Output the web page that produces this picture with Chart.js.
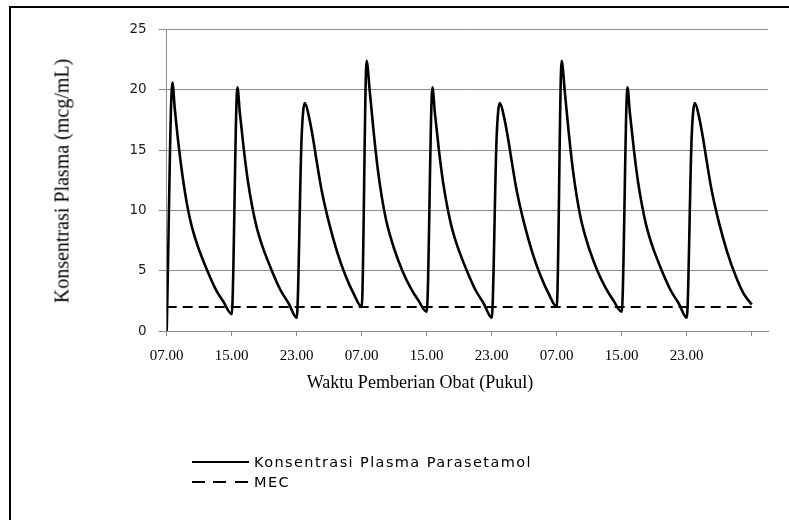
<!DOCTYPE html>
<html lang="id">
<head>
<meta charset="utf-8">
<title>Konsentrasi Plasma Parasetamol</title>
<script src="https://cdn.jsdelivr.net/npm/chart.js@4.4.1/dist/chart.umd.min.js"></script>
<style>
  html, body { margin: 0; padding: 0; background: #fff; }
  body { width: 789px; height: 520px; position: relative; overflow: hidden; }
  #bingkai { position: absolute; left: 9px; top: 6px; width: 820px; height: 600px;
             border-left: 2px solid #000; border-top: 2px solid #000; }
  #wadah { position: absolute; left: 0; top: 0; width: 789px; height: 520px; }
  .judul { position: absolute; font-family: "Liberation Serif", "Times New Roman", serif;
           color: #000; white-space: nowrap; }
  #judulX { left: 420px; top: 382px; font-size: 19px; transform: translate(-50%, -50%) scaleX(0.95); }
  #judulY { left: 62px; top: 181px; font-size: 20px; transform: translate(-50%, -50%) rotate(-90deg); }
  #legenda { position: absolute; left: 192px; top: 452px; font-family: "DejaVu Sans", sans-serif;
             font-size: 14.5px; letter-spacing: 1.4px; color: #000; }
  .item { position: relative; height: 20px; width: 420px; }
  .contoh { position: absolute; left: 0; top: 9px; width: 57px; height: 2px; }
  .penuh { background: #000; }
  .putus { background: repeating-linear-gradient(to right, #000 0 13px, transparent 13px 21.5px); }
  .teks { position: absolute; left: 62px; top: 0; line-height: 20px; }
</style>
</head>
<body>
<div id="bingkai"></div>
<div id="wadah"><canvas id="grafik"></canvas></div>
<div class="judul" id="judulX">Waktu Pemberian Obat (Pukul)</div>
<div class="judul" id="judulY">Konsentrasi Plasma (mcg/mL)</div>
<div id="legenda">
  <div class="item"><div class="contoh penuh"></div><div class="teks" id="leg0"></div></div>
  <div class="item"><div class="contoh putus"></div><div class="teks" id="leg1"></div></div>
</div>
<script>
// Waktu sejak dosis pertama (jam) dan kadar parasetamol (mcg/mL)
const waktuJam = [
  0, 0.7, 1, 1.5, 2, 2.5, 3, 3.5, 4, 5, 6, 7,
  8, 8.7, 9, 9.5, 10, 10.5, 11, 11.5, 12, 13, 14, 15,
  16, 16.6, 17, 17.5, 18, 18.5, 19, 19.5, 20, 21, 22, 23,
  24, 24.6, 25, 25.5, 26, 26.5, 27, 27.5, 28, 29, 30, 31,
  32, 32.7, 33, 33.5, 34, 34.5, 35, 35.5, 36, 37, 38, 39,
  40, 40.6, 41, 41.5, 42, 42.5, 43, 43.5, 44, 45, 46, 47,
  48, 48.6, 49, 49.5, 50, 50.5, 51, 51.5, 52, 53, 54, 55,
  56, 56.7, 57, 57.5, 58, 58.5, 59, 59.5, 60, 61, 62, 63,
  64, 64.6, 65, 65.5, 66, 66.5, 67, 67.5, 68, 69, 70, 71, 72
];
const kadarPlasma = [
  0, 20.6, 18.4, 15.2, 12.6, 10.5, 8.9, 7.7, 6.7, 5.0, 3.5, 2.4,
  1.4, 20.2, 18.1, 15.0, 12.4, 10.4, 8.8, 7.6, 6.6, 4.9, 3.4, 2.3,
  1.1, 16.0, 18.9, 17.8, 16.0, 13.9, 11.9, 10.3, 8.9, 6.5, 4.6, 3.1,
  2.0, 22.4, 19.8, 16.3, 13.3, 11.0, 9.2, 7.9, 6.8, 5.0, 3.6, 2.5,
  1.6, 20.2, 18.1, 15.0, 12.4, 10.4, 8.8, 7.6, 6.6, 4.9, 3.4, 2.3,
  1.1, 16.0, 18.9, 17.8, 16.0, 13.9, 11.9, 10.3, 8.9, 6.5, 4.6, 3.1,
  2.0, 22.4, 19.8, 16.3, 13.3, 11.0, 9.2, 7.9, 6.8, 5.0, 3.6, 2.5,
  1.6, 20.2, 18.1, 15.0, 12.4, 10.4, 8.8, 7.6, 6.6, 4.9, 3.4, 2.3,
  1.1, 16.0, 18.9, 17.8, 16.0, 13.9, 11.9, 10.3, 8.9, 6.5, 4.6, 3.1, 2.2
];
// MEC (minimum effective concentration)
const mecJam = [0, 72];
const mecKadar = [2, 2];

const tickJam = [0, 8, 16, 24, 32, 40, 48, 56, 64, 72];
const labelPukul = ['07.00', '15.00', '23.00', '07.00', '15.00', '23.00', '07.00', '15.00', '23.00', ''];
const namaSeri = ['Konsentrasi Plasma Parasetamol', 'MEC'];

document.getElementById('leg0').textContent = namaSeri[0];
document.getElementById('leg1').textContent = namaSeri[1];

const warnaGrid = '#8c8c8c';
const ctx = document.getElementById('grafik').getContext('2d');

new Chart(ctx, {
    type: 'line',
    data: {
        datasets: [
            {
                label: namaSeri[1],
                data: mecJam.map((t, i) => ({ x: t, y: mecKadar[i] })),
                borderColor: '#000',
                borderWidth: 2,
                borderDash: [10, 6],
                pointRadius: 0,
                fill: false
            },
            {
                label: namaSeri[0],
                data: waktuJam.map((t, i) => ({ x: t, y: kadarPlasma[i] })),
                borderColor: '#000',
                borderWidth: 2.6,
                pointRadius: 0,
                cubicInterpolationMode: 'monotone',
                fill: false
            }
        ]
    },
    options: {
        responsive: true,
        maintainAspectRatio: false,
        animation: false,
        layout: { padding: { left: 0, top: 29.5, right: 21, bottom: 149 } },
        plugins: {
            legend: { display: false },
            tooltip: { enabled: false }
        },
        scales: {
            x: {
                type: 'linear',
                min: 0,
                max: 74,
                afterBuildTicks: s => { s.ticks = tickJam.map(v => ({ value: v })); },
                afterFit: s => { s.height = 40; },
                grid: { drawOnChartArea: false, tickLength: 5, color: warnaGrid },
                border: { color: warnaGrid },
                ticks: {
                    autoSkip: false,
                    maxRotation: 0,
                    padding: 11,
                    color: '#000',
                    font: { family: 'Liberation Serif', size: 15 },
                    callback: (v, i) => labelPukul[i]
                }
            },
            y: {
                min: 0,
                max: 25,
                afterFit: s => { s.width = 166.7; },
                grid: { tickLength: 8, color: warnaGrid },
                border: { color: warnaGrid },
                ticks: {
                    stepSize: 5,
                    padding: 12,
                    color: '#1c1c2c',
                    font: { family: 'DejaVu Sans', size: 13.5 }
                }
            }
        }
    }
});
</script>
</body>
</html>
